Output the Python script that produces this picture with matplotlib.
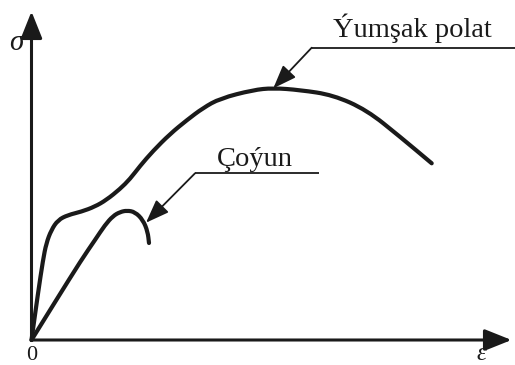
import numpy as np
import matplotlib.pyplot as plt
from matplotlib.path import Path
from matplotlib.patches import PathPatch

plt.rcParams['font.family'] = ['Liberation Serif', 'DejaVu Serif']

# strain / stress in drawing units, origin at the corner of the axes
steel_eps = [0, 6.5, 11.5, 14.8, 19.8, 26.5, 36.5, 49.8, 63.2, 74.8, 88.5, 98.5,
             108.5, 121.5, 138.5, 155.5, 171.5, 188.5, 221.5, 241.5, 268.5,
             301.5, 335.2, 368.5, 400.2]
steel_sig = [0, 46.7, 80, 96.7, 110, 120, 125, 128.3, 133.3, 140, 151, 161,
             174, 189, 206, 220, 232, 241.5, 250, 252, 250,
             245, 230, 203.3, 176.7]

iron_eps = [0, 24.8, 49.8, 63.5, 73.5, 81.5, 88.5, 95.5, 103.5, 111.5, 116.2, 117.5]
iron_sig = [0, 40, 80, 100, 115, 124, 128, 129.5, 128, 120, 108.3, 97]

steel_label = 'Ýumşak polat'
iron_label = 'Çoýun'

# leader lines: (shelf start, shelf end, arrow tip)
steel_leader = ((280.2, 292.3), (483.5, 292.3), (241.8, 251.7))
iron_leader = ((163.5, 166.7), (287.8, 166.7), (114.5, 117.3))


def smooth_path(xs, ys):
    # quadratic bezier through the midpoints of successive points
    pts = np.column_stack([xs, ys])
    verts = [pts[0], (pts[0] + pts[1]) / 2]
    codes = [Path.MOVETO, Path.LINETO]
    for i in range(1, len(pts) - 1):
        verts.append(pts[i])
        verts.append((pts[i] + pts[i + 1]) / 2)
        codes += [Path.CURVE3, Path.CURVE3]
    verts.append(pts[-1])
    codes.append(Path.LINETO)
    return Path(verts, codes)


fig = plt.figure(figsize=(5.15, 3.65), dpi=100)
ax = fig.add_axes([0, 0, 1, 1])
ax.set_xlim(-31.5, 483.5)
ax.set_ylim(-25, 340)
ax.axis('off')

ink = '#1a1a1a'

# axes with arrowheads
arrow_kw = dict(arrowstyle='-|>,head_length=0.75,head_width=0.3', lw=2.2,
                color=ink, mutation_scale=22, shrinkA=0, shrinkB=0)
ax.annotate('', xy=(0, 328.5), xytext=(0, 0), arrowprops=arrow_kw)
ax.annotate('', xy=(480, 0), xytext=(0, 0), arrowprops=arrow_kw)

for xs, ys in [(steel_eps, steel_sig), (iron_eps, iron_sig)]:
    ax.add_patch(PathPatch(smooth_path(xs, ys), fill=False, lw=3.0,
                           edgecolor=ink, capstyle='round', joinstyle='round'))

leader_kw = dict(arrowstyle='-|>,head_length=0.8,head_width=0.3', lw=1.3,
                 color=ink, mutation_scale=18, shrinkA=0, shrinkB=0)
for (start, end, tip) in [steel_leader, iron_leader]:
    ax.plot([start[0], end[0]], [start[1], end[1]], color=ink, lw=1.3,
            solid_capstyle='butt')
    ax.annotate('', xy=tip, xytext=start, arrowprops=leader_kw)

ax.text(380.8, 303.3, steel_label, fontsize=20.5, ha='center', va='baseline',
        color=ink)
ax.text(223.5, 174, iron_label, fontsize=20.5, ha='center', va='baseline',
        color=ink)

ax.text(-15, 296.7, 'σ', fontsize=21, style='italic', ha='center', va='center',
        color=ink)
ax.text(449.5, -14.5, 'ε', fontsize=18, style='italic', ha='center', va='center',
        color=ink)
ax.text(0, -6.5, '0', fontsize=16, ha='center', va='top', color=ink)

fig.savefig('out.png', dpi=100)
